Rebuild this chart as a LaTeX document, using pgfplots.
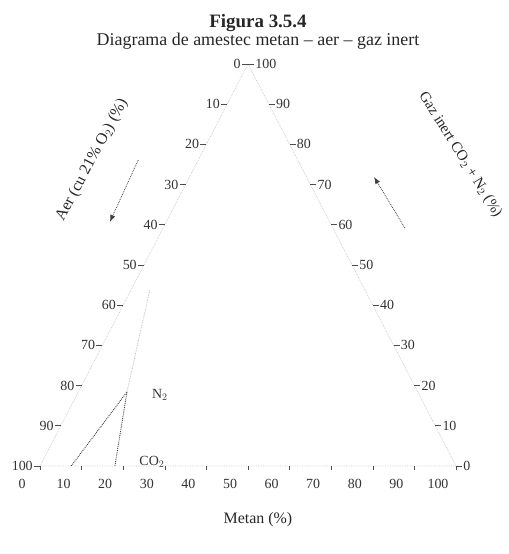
\documentclass[border=0pt]{standalone}
\usepackage{fontspec}
\setmainfont{Liberation Serif}
\usepackage{pgfplots}
\usepackage{pgfplotstable}
\pgfplotsset{compat=1.18}
\usetikzlibrary{arrows.meta}

% ternary points: m = metan (%), g = gaz inert (%), aer = 100 - m - g
\pgfplotstableread{
m g
0 100
0 0
100 0
0 100
}\sides
\pgfplotstableread{
m g
7.5 0
11.7 18.4
}\azot
\pgfplotstableread{
m g
11.7 18.4
18.0 0
}\bioxid
\pgfplotstableread{
m g
11.7 18.4
4.5 43.8
}\sus

\tikzset{
  lab/.style={font=\fontsize{14}{16}\selectfont, text=black!80, inner sep=1pt},
  tck/.style={black!70, line width=0.6pt},
}

\begin{document}
\begin{tikzpicture}
\begin{axis}[
  scale only axis, width=508bp, height=554bp,
  xmin=-9.62, xmax=112.5, ymin=-21.9, ymax=115.9,
  hide axis, clip=false,
]
\path (rel axis cs:0,0) rectangle (rel axis cs:1,1);

\addplot[gray!45, densely dotted, line width=0.7pt]
  table[x expr=\thisrow{m}+0.5*\thisrow{g}, y=g] {\sides};
\addplot[black!75, densely dotted, line width=0.9pt]
  table[x expr=\thisrow{m}+0.5*\thisrow{g}, y=g] {\azot};
\addplot[black!75, densely dotted, line width=0.9pt]
  table[x expr=\thisrow{m}+0.5*\thisrow{g}, y=g] {\bioxid};
\addplot[gray!60, densely dotted, line width=0.7pt]
  table[x expr=\thisrow{m}+0.5*\thisrow{g}, y=g] {\sus};

% scales
\pgfplotsinvokeforeach{0,10,...,100}{
  \draw[tck] (axis cs:{(100-#1)/2},{100-#1}) -- ++(-6bp,0bp) node[lab, left]{#1};
  \draw[tck] (axis cs:{100-#1/2},{#1}) -- ++(6bp,0bp) node[lab, right]{#1};
  \draw[tck] (axis cs:#1,0) -- ++(0bp,-4bp) node[lab, below, xshift=-18bp, yshift=-8bp]{#1};
}

% annotations
\node[lab] at (axis cs:28.8,17.7) {N$_2$};
\node[lab] at (axis cs:26.9,1) {CO$_2$};
\draw[black!75, densely dotted, line width=0.8pt, -{Latex[length=7bp]}]
  (axis cs:23.6,76.1) -- (axis cs:16.8,60.7);
\draw[black!75, densely dotted, line width=0.8pt, -{Latex[length=7bp]}]
  (axis cs:87.7,59.2) -- (axis cs:80.3,71.9);
\node[font=\fontsize{16}{18}\selectfont, text=black!85, rotate=62]
  at (axis cs:12.5,76.1) {Aer (cu 21\% O$_2$) (\%)};
\node[font=\fontsize{15}{17}\selectfont, text=black!85, rotate=-58]
  at (axis cs:101.0,77.4) {Gaz inert CO$_2$ + N$_2$ (\%)};

% titles
\node[font=\fontsize{19}{21}\selectfont\bfseries, text=black!85]
  at (axis cs:52.4,110.2) {Figura 3.5.4};
\node[font=\fontsize{18}{20}\selectfont, text=black!85]
  at (axis cs:52.4,105.6) {Diagrama de amestec metan -- aer -- gaz inert};
\node[font=\fontsize{16}{18}\selectfont, text=black!85]
  at (axis cs:52.4,-13.4) {Metan (\%)};
\end{axis}
\end{tikzpicture}
\end{document}
